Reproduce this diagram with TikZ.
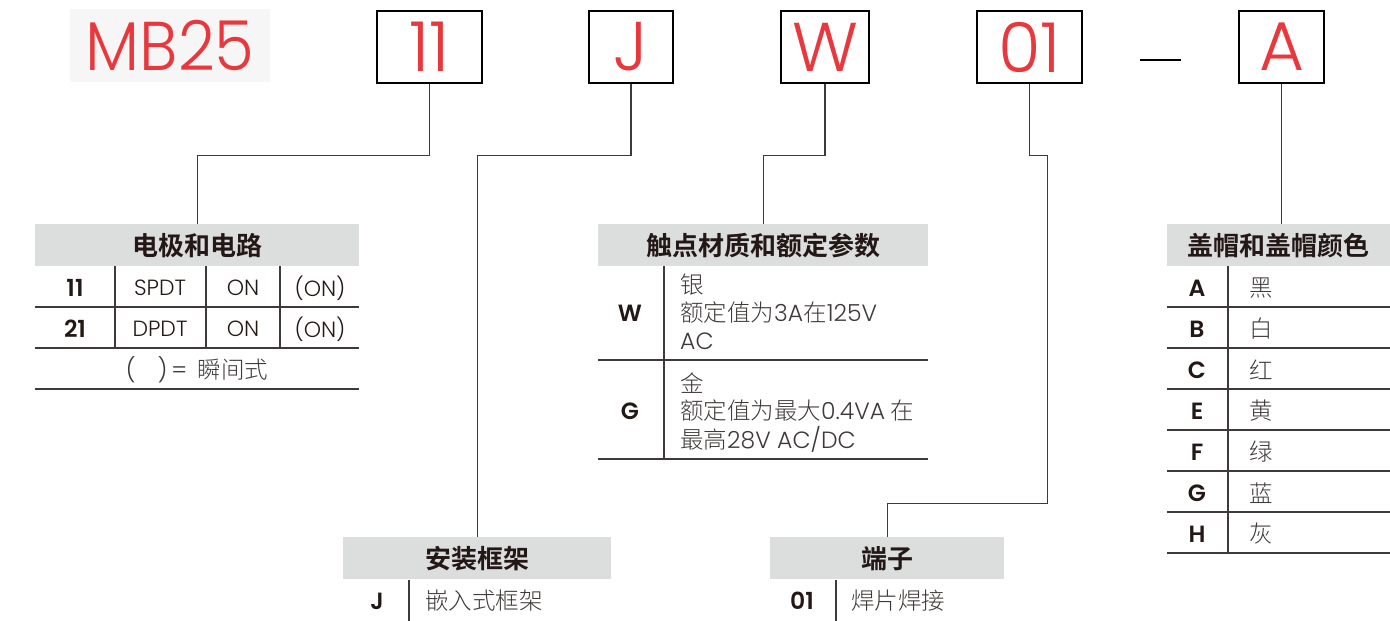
\documentclass[tikz,border=0pt]{standalone}
\usepackage{fontspec}
\setmainfont{Poppins}
\newfontfamily\lat{Poppins Light}
\newfontfamily\latb{Poppins SemiBold}
\newfontfamily\cjkb{Noto Sans CJK SC Bold}
\newfontfamily\cjk{Noto Sans CJK SC Light}
\definecolor{brandred}{HTML}{E8383D}
\definecolor{hdr}{HTML}{DCDDDD}
\definecolor{ink}{HTML}{3E3A39}
\definecolor{dark}{HTML}{231815}
\definecolor{lightbg}{HTML}{F6F6F6}
\tikzset{
  codebox/.style={draw=black,line width=2.2pt,minimum width=#1,minimum height=72pt,inner sep=0pt,anchor=north west,text=brandred,font=\lat\fontsize{69}{69}\selectfont},
  hdrbox/.style={fill=hdr,minimum width=#1,minimum height=42pt,inner sep=0pt,anchor=north west,text=dark,font=\cjkb\fontsize{26}{26}\selectfont},
  conn/.style={draw=ink,line width=1.3pt},
  rule/.style={draw=ink,line width=1.3pt},
  keytxt/.style={text=dark,font=\latb\fontsize{23.5}{23.5}\selectfont,inner sep=0pt},
  celltxt/.style={text=dark,font=\lat\fontsize{22}{22}\selectfont,inner sep=0pt},
  bodytxt/.style={text=ink,font=\cjk\fontsize{23.5}{23.5}\selectfont,inner sep=0pt,anchor=west},
}
\begin{document}
\begin{tikzpicture}[x=1pt,y=-1pt]
\useasboundingbox (0,0) rectangle (1390,621);
% title
\node[fill=lightbg,minimum width=200pt,minimum height=73pt,inner sep=0pt,anchor=north west] (mb) at (70,9) {};
\node[text=brandred,font=\lat\fontsize{69}{69}\selectfont,inner sep=0pt,xscale=0.93] (mbt) at (mb.center) {MB25};
\node[codebox=105pt] (b11) at (376,10) {11};
\node[codebox=84pt] (bJ) at (588,10) {J};
\node[codebox=88pt] (bW) at (780,10) {W};
\node[codebox=105pt] (b01) at (976,10) {01};
\node[codebox=85pt] (bA) at (1238,10) {A};
\coordinate (d1) at (1140,60);
\coordinate (d2) at (1181,60);
\draw[line width=2pt,black] (d1) -- (d2);

% table 1
\node[hdrbox=324pt] (t1h) at (35,224) {电极和电路};
\draw[rule] (35,307) -- (359,307) (35,348) -- (359,348) (35,389) -- (359,389);
\draw[rule] (115,266) -- (115,348) (206,266) -- (206,348) (280,266) -- (280,348);
\node[keytxt] (k11) at (75,288) {11};
\node[celltxt] (c11a) at (160,288) {SPDT};
\node[celltxt] (c11b) at (243,288) {ON};
\node[celltxt] (c11c) at (320,288) {(ON)};
\node[keytxt] (k21) at (75,329) {21};
\node[celltxt] (c21a) at (160,329) {DPDT};
\node[celltxt] (c21b) at (243,329) {ON};
\node[celltxt] (c21c) at (320,329) {(ON)};
\node[celltxt,text=ink,font=\lat\fontsize{23.5}{23.5}\selectfont] (note) at (197,370) {(\hspace{22pt})\,=\, {\cjk 瞬间式}};

% table 2
\node[hdrbox=330pt] (t2h) at (598,224) {触点材质和额定参数};
\draw[rule] (598,360) -- (928,360) (598,459) -- (928,459);
\draw[rule] (664,266) -- (664,459);
\node[keytxt] (kW) at (630,313) {W};
\node[bodytxt] (w1) at (680,285) {银};
\node[bodytxt] (w2) at (680,313) {额定值为{\lat 3A}在{\lat 125V}};
\node[bodytxt] (w3) at (680,341) {\lat AC};
\node[keytxt] (kG) at (630,411) {G};
\node[bodytxt] (g1) at (680,383) {金};
\node[bodytxt] (g2) at (680,411) {额定值为最大{\lat 0.4VA} 在};
\node[bodytxt] (g3) at (680,439) {最高{\lat 28V AC/DC}};

% table 3
\node[hdrbox=223pt] (t3h) at (1167,224) {盖帽和盖帽颜色};
\foreach \yy in {307,348,389,430,471,512,553} \draw[rule] (1167,\yy) -- (1390,\yy);
\draw[rule] (1228,266) -- (1228,553);
\node[keytxt] (kA) at (1197,288) {A};
\node[bodytxt] (vA) at (1249,288) {黑};
\node[keytxt] (kB) at (1197,329) {B};
\node[bodytxt] (vB) at (1249,329) {白};
\node[keytxt] (kC) at (1197,370) {C};
\node[bodytxt] (vC) at (1249,370) {红};
\node[keytxt] (kE) at (1197,411) {E};
\node[bodytxt] (vE) at (1249,411) {黄};
\node[keytxt] (kF) at (1197,452) {F};
\node[bodytxt] (vF) at (1249,452) {绿};
\node[keytxt] (kG2) at (1197,493) {G};
\node[bodytxt] (vG) at (1249,493) {蓝};
\node[keytxt] (kH) at (1197,534) {H};
\node[bodytxt] (vH) at (1249,534) {灰};

% table 4
\node[hdrbox=268pt] (t4h) at (343,537) {安装框架};
\draw[rule] (409,580) -- (409,621);
\node[keytxt] (kJ) at (377,601) {J};
\node[bodytxt] (vJ) at (425,601) {嵌入式框架};

% table 5
\node[hdrbox=234pt] (t5h) at (770,537) {端子};
\draw[rule] (836,580) -- (836,621);
\node[keytxt] (k01) at (802,601) {01};
\node[bodytxt] (v01) at (851,601) {焊片焊接};

% connectors
\draw[conn] (b11.south) -- ++(0,71) -| (t1h.north);
\draw[conn] (bJ.south) -- ++(0,71) -| (t4h.north);
\draw[conn] (bW.south) -- ++(0,71) -| (t2h.north);
\draw[conn] (b01.south) -- ++(0,71) -- ++(18,0) -- ++(0,348) -| (t5h.north);
\draw[conn] (bA.south) -- (bA.south |- t3h.north);
\end{tikzpicture}
\end{document}
